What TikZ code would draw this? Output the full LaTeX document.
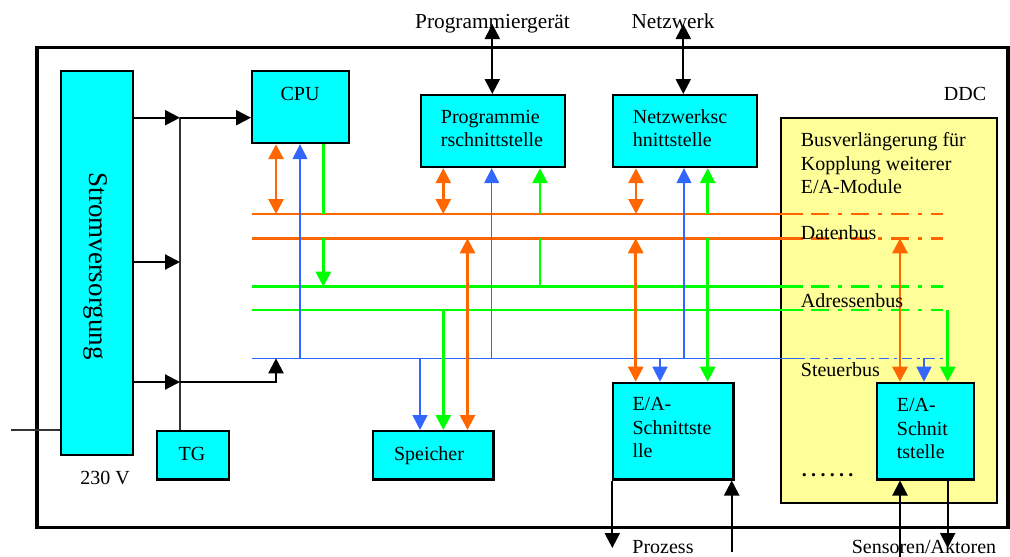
\documentclass[tikz,border=0pt]{standalone}
\usepackage{fontspec}
\setmainfont{Liberation Serif}
\usetikzlibrary{arrows.meta}
\definecolor{ifcyan}{HTML}{00FFFF}
\definecolor{extyellow}{HTML}{FFFF99}
\definecolor{busorange}{HTML}{FF6600}
\definecolor{busgreen}{HTML}{00FF00}
\definecolor{busblue}{HTML}{3366FF}
\begin{document}
\begin{tikzpicture}[x=1pt,y=-1pt,
  >={Triangle[length=15pt,width=15pt]},
  box/.style={draw=black,line width=2.2pt,fill=ifcyan,inner sep=0pt,anchor=north west},
  lbl/.style={font=\fontsize{20}{23.4}\selectfont,inner sep=0pt},
  toplbl/.style={font=\fontsize{21.3}{24}\selectfont,inner sep=0pt},
  pwr/.style={draw=black,line width=2.2pt},
  thinline/.style={draw=black!80,line width=1.3pt},
  dbus/.style={draw=busorange,line width=2.8pt},
  abus/.style={draw=busgreen,line width=2.8pt},
  sbus/.style={draw=busblue,line width=1.4pt},
  dashdot/.style={dash pattern=on 18pt off 9pt on 4pt off 9pt,dash phase=32pt},
  sdashdot/.style={dash pattern=on 10pt off 5pt on 3pt off 5pt,dash phase=16pt},
]
\useasboundingbox (0,0) rectangle (1010,557);

% DDC housing and the bus extension area
\node[draw=black,line width=3.5pt,inner sep=0pt,anchor=north west,
      minimum width=971pt,minimum height=480pt] (ddc) at (35,45.5) {};
\node[draw=black,line width=1.8pt,fill=extyellow,inner sep=0pt,anchor=north west,
      minimum width=216pt,minimum height=384.4pt] (ext) at (780,117.3) {};

% bus rails: solid inside the controller, dash-dotted in the extension
\coordinate (d1s) at (251.7,214);   \coordinate (d1m) at (803,214);   \coordinate (d1e) at (943,214);
\coordinate (d2s) at (251.7,238.3); \coordinate (d2m) at (803,238.3); \coordinate (d2e) at (943,238.3);
\coordinate (a1s) at (251.7,286.7); \coordinate (a1m) at (803,286.7); \coordinate (a1e) at (943,286.7);
\coordinate (a2s) at (251.7,310);   \coordinate (a2m) at (803,310);   \coordinate (a2e) at (943,310);
\coordinate (s1s) at (251.7,358.3); \coordinate (s1m) at (803,358.3); \coordinate (s1e) at (947,358.3);
\draw[dbus] (d1s) -- (d1m); \draw[dbus,dashdot] (d1m) -- (d1e);
\draw[dbus] (d2s) -- (d2m); \draw[dbus,dashdot] (d2m) -- (d2e);
\draw[abus] (a1s) -- (a1m); \draw[abus,dashdot] (a1m) -- (a1e);
\draw[abus] (a2s) -- (a2m); \draw[abus,dashdot] (a2m) -- (a2e);
\draw[sbus] (s1s) -- (s1m); \draw[sbus,sdashdot] (s1m) -- (s1e);

% modules
\node[box,minimum width=72.5pt,minimum height=384pt] (strom) at (59.5,70) {};
\node[box,minimum width=97pt,minimum height=72pt] (cpu) at (251,70) {};
\node[box,minimum width=144.5pt,minimum height=72pt] (prog) at (419.5,94) {};
\node[box,minimum width=144.3pt,minimum height=72pt] (netz) at (611.7,94) {};
\node[box,minimum width=72.3pt,minimum height=48.3pt] (tg) at (155.7,430) {};
\node[box,minimum width=120.6pt,minimum height=48.3pt] (mem) at (371.7,430) {};
\node[box,minimum width=120.6pt,minimum height=96.6pt] (ea1) at (611.7,381.7) {};
\node[box,minimum width=96.7pt,minimum height=96.6pt] (ea2) at (876,381.7) {};

% taps on the buses
\coordinate (cD) at (276,214);   \coordinate (cS) at (300,358.3);
\coordinate (cA1) at (323.3,214); \coordinate (cA2) at (323.3,238.3); \coordinate (cA3) at (323.3,286.7);
\coordinate (pD) at (443.3,214); \coordinate (pS) at (491.7,358.3);
\coordinate (pA1) at (540,214);  \coordinate (pA2) at (540,238.3); \coordinate (pA3) at (540,286.7);
\coordinate (nD) at (636,214);   \coordinate (nS) at (684,358.3);
\coordinate (nA1) at (707.7,214); \coordinate (nA2) at (707.7,238.3);
\coordinate (mS) at (420,358.3); \coordinate (mA) at (443.3,310); \coordinate (mD) at (467.5,238.3);
\coordinate (eD) at (635.7,238.3); \coordinate (eS) at (660,358.3);
\coordinate (fD) at (900,238.3); \coordinate (fS) at (924,358.3); \coordinate (fA) at (947.7,310);

% CPU
\draw[dbus,<->] (cpu.south -| cD) -- (cD);
\draw[sbus,->] (cS) -- (cpu.south -| cS);
\draw[abus] (cpu.south -| cA1) -- (cA1);
\draw[abus,->] (cA2) -- (cA3);
% programming interface
\draw[dbus,<->] (prog.south -| pD) -- (pD);
\draw[sbus,->] (pS) -- (prog.south -| pS);
\draw[abus,->] (pA1) -- (prog.south -| pA1);
\draw[abus] (pA2) -- (pA3);
% network interface
\draw[dbus,<->] (netz.south -| nD) -- (nD);
\draw[sbus,->] (nS) -- (netz.south -| nS);
\draw[abus,->] (nA1) -- (netz.south -| nA1);
\draw[abus,->] (nA2) -- (ea1.north -| nA2);
% memory
\draw[sbus,->] (mS) -- (mem.north -| mS);
\draw[abus,->] (mA) -- (mem.north -| mA);
\draw[dbus,<->] (mD) -- (mem.north -| mD);
% I/O interface
\draw[dbus,<->] (eD) -- (ea1.north -| eD);
\draw[sbus,->] (eS) -- (ea1.north -| eS);
% I/O interface in the extension
\draw[dbus,<->] (fD) -- (ea2.north -| fD);
\draw[sbus,->] (fS) -- (ea2.north -| fS);
\draw[abus,->] (fA) -- (ea2.north -| fA);

% power supply and clock
\coordinate (j1) at (180,117.7); \coordinate (j2) at (180,262); \coordinate (j3) at (180,382);
\coordinate (sT) at (276,358.3); \coordinate (mains) at (11,430);
\draw[thinline] (j1) -- (tg.north -| j1);
\draw[pwr,->] (strom.east |- j1) -- (j1);
\draw[pwr,->] (j1) -- (cpu.west |- j1);
\draw[pwr,->] (strom.east |- j2) -- (j2);
\draw[pwr,->] (strom.east |- j3) -- (j3);
\draw[pwr,->] (j3) -| (sT);
\draw[thinline] (mains) -- (strom.west |- mains);

% labels outside the housing
\node[toplbl,anchor=base] (tpg) at (492.5,28.3) {Programmiergerät};
\node[toplbl,anchor=base] (tnw) at (673,28.3) {Netzwerk};
\node[lbl,anchor=base] (tpz) at (663,553) {Prozess};
\node[lbl,anchor=base] (tsa) at (924,553) {Sensoren/Aktoren};

% external connections
\coordinate (pg) at (492.3,24); \coordinate (nw) at (683.3,24);
\coordinate (po) at (612.3,548); \coordinate (pi) at (731.7,551.7);
\coordinate (si) at (900,557); \coordinate (so) at (947.7,548);
\draw[pwr,<->] (prog.north -| pg) -- (pg);
\draw[pwr,<->] (netz.north -| nw) -- (nw);
\draw[pwr,->] (ea1.south -| po) -- (po);
\draw[pwr,->] (pi) -- (ea1.south -| pi);
\draw[pwr,->] (si) -- (ea2.south -| si);
\draw[pwr,->] (ea2.south -| so) -- (so);

% texts
\node[lbl,anchor=base] (tddc) at (965,100) {DDC};
\node[lbl,anchor=base] (t230) at (105,484) {230 V};
\node[inner sep=0pt,rotate=-90,font=\fontsize{27}{30}\selectfont] (tstrom) at (96,266) {Stromversorgung};
\node[lbl,anchor=base] (tcpu) at (300,100) {CPU};
\node[lbl,align=left,anchor=north west] (tprog) at (440.7,106.9) {\strut Programmie\\rschnittstelle};
\node[lbl,align=left,anchor=north west] (tnetz) at (632.7,106.9) {\strut Netzwerksc\\hnittstelle};
\node[lbl,anchor=base] (ttg) at (192,460) {TG};
\node[lbl,anchor=base] (tmem) at (429,460) {Speicher};
\node[lbl,align=left,anchor=north west] (tea1) at (632.3,394.3) {\strut E/A-\\Schnittste\\lle};
\node[lbl,align=left,anchor=north west] (tea2) at (896.7,395.3) {\strut E/A-\\Schnit\\tstelle};
\node[lbl,align=left,anchor=north west] (text) at (800.7,130.3) {\strut Busverlängerung für\\Kopplung weiterer\\E/A-Module};
\node[lbl,anchor=base west] (tdb) at (800.7,239.3) {Datenbus};
\node[lbl,anchor=base west] (tab) at (800.7,307.3) {Adressenbus};
\node[lbl,anchor=base west] (tsb) at (800.7,376.7) {Steuerbus};
\node[lbl,anchor=base west] (tdots) at (801.7,476.7) {\bfseries .\kern4.3pt.\kern4.3pt.\kern4.3pt.\kern4.3pt.\kern4.3pt.};
\end{tikzpicture}
\end{document}
